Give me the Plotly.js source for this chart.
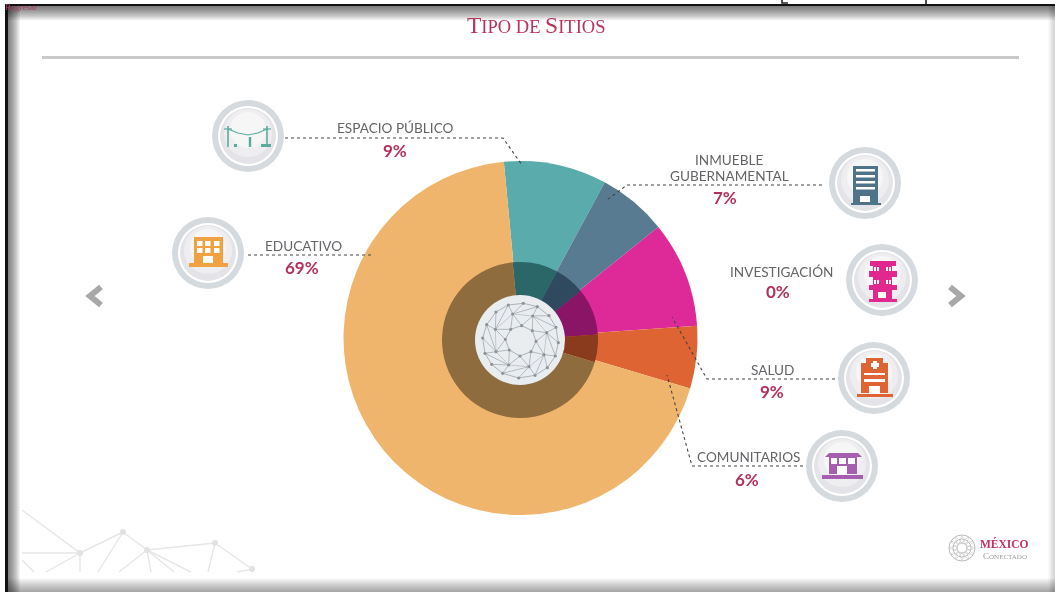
<!DOCTYPE html>
<html><head><meta charset="utf-8">
<script src="https://cdn.plot.ly/plotly-3.0.1.min.js"></script>
<style>html,body{margin:0;padding:0;background:#fff;overflow:hidden}#chart{width:1055px;height:592px;filter:blur(0.4px)}</style>
</head><body><div id="chart"></div>
<script>
const categories = ['Espacio público','Inmueble gubernamental','Investigación','Salud','Comunitarios','Educativo'];
const printedPercents = [9,7,0,9,6,69];
const wedgeShares = [9.4,6.3,0,9.7,5.7,68.9];
const sliceColors = ['#5aabab','#587b91','#a855a8','#dd2a98','#de6434','#f0b56d'];
const ringColors = ['#2b6668','#2f4a5f','#6a2a6a','#8a1465','#8a3a1d','#8f6c3e'];

const W=1055,H=592;
const px=x=>x/W, py=y=>1-y/H;
const shapes=[], ann=[];
function path(pts,color,width,dash,closed,layer){
  const d=pts.map((p,i)=>(i?'L':'M')+px(p[0]).toFixed(5)+','+py(p[1]).toFixed(5)).join(' ')+(closed?' Z':'');
  shapes.push({type:'path',xref:'paper',yref:'paper',path:d,layer:layer||'above',
    line:{color:closed&&!width?'rgba(0,0,0,0)':color,width:width||0,dash:dash||'solid'},
    fillcolor:closed?color:'rgba(0,0,0,0)'});
}
function rect(x0,y0,x1,y1,color,layer){
  shapes.push({type:'rect',xref:'paper',yref:'paper',x0:px(x0),x1:px(x1),y0:py(y1),y1:py(y0),layer:layer||'above',fillcolor:color,line:{width:0}});
}
function circ(cx,cy,r,color,lc,lw,layer){
  shapes.push({type:'circle',xref:'paper',yref:'paper',x0:px(cx-r),x1:px(cx+r),y0:py(cy+r),y1:py(cy-r),layer:layer||'above',fillcolor:color,line:{color:lc||'rgba(0,0,0,0)',width:lw||0}});
}
function text(x,y,t,size,color,family,extra){
  ann.push(Object.assign({xref:'paper',yref:'paper',x:px(x),y:py(y),text:t,showarrow:false,xanchor:'center',yanchor:'middle',borderpad:0,
    font:{family:family||'Lato, sans-serif',size:size,color:color}},extra||{}));
}

/* frame and soft inner shadow */
for(let i=0;i<14;i++){
  const a='rgba(0,0,0,0.05)';
  rect(7,6,7+i,592,a,'below');
  rect(7,6,1055,6+i*1.1,a,'below');
  if(i<10) rect(7,591-i*1.4,1055,592,'rgba(0,0,0,0.04)','below');
  if(i<6) rect(1055-i*1.3,6,1055,592,'rgba(0,0,0,0.035)','below');
}
rect(5,4,1055,6,'#111','below');
rect(5,4,8,592,'#111','below');
/* clipped caption fragments at the very top */
path([[782,0],[782,3],[788,3]],'#222',1.6);
path([[926,0],[926,4]],'#222',1.6);

/* header */
text(536,25,'T<span style="font-size:18.5px">IPO DE </span>S<span style="font-size:18.5px">ITIOS</span>',23.5,'#b8325a','"Liberation Serif", serif');
rect(42,56,1019,59,'#c9c9c9','below');
text(21,7,'Regresar',9,'#a8405c','"Liberation Serif", serif');

/* nav chevrons */
path([[101,287],[90,296],[101,305]],'#a8a8a8',6);
path([[950,287],[961,296],[950,305]],'#a8a8a8',6);

/* bottom-left decorative net */
const netCol='#e6e6e6';
[[[22,510],[80,553]],[[22,553],[80,553]],[[22,560],[34,572]],[[80,553],[46,572]],[[80,553],[80,572]],[[123,532],[98,572]],
 [[80,553],[123,532]],[[123,532],[147,550]],[[147,550],[119,572]],[[147,550],[151,572]],[[147,550],[174,572]],[[147,550],[191,572]],
 [[147,550],[215,543]],[[215,543],[208,572]],[[215,543],[252,569]],[[252,569],[237,572]]].forEach(s=>path(s,netCol,1.4,null,false,'below'));
[[80,553],[123,532],[147,550],[215,543],[252,569]].forEach(n=>circ(n[0],n[1],3,'#e2e2e2',null,0,'below'));

/* central globe */
circ(520,340,45,'#e9edf0');
const gO=[[280,160],[322,170],[357,197],[378,232],[385,278],[376,318],[352,353],[315,376],[266,384],[218,370],[185,343],[165,310],[158,264],[170,224],[198,186],[235,165]];
const gM=[[248,192],[308,198],[350,248],[342,314],[297,350],[236,345],[198,305],[196,238]];
const gI=[[275,227],[307,242],[318,274],[303,305],[270,318],[238,300],[226,268],[242,238]];
const g=p=>[430+p[0]/3,250+p[1]/3];
const gl='#9ea3a8';
path(gO.concat([gO[0]]).map(g),gl,0.8);
path(gI.concat([gI[0]]).map(g),gl,0.8);
gM.forEach((m,i)=>{
  [2*i+15,2*i,2*i+1].forEach(j=>path([g(m),g(gO[j%16])],gl,0.7));
  [(i+7)%8,i].forEach(j=>path([g(m),g(gI[j])],gl,0.7));
  path([g(m),g(gM[(i+1)%8])],gl,0.5);
});
gO.concat(gM,gI).forEach(p=>{const q=g(p);circ(q[0],q[1],1.6,'#8e9499');});

/* leader lines */
const lead='#444';
path([[285,138],[503,138],[522,165]],lead,1.1,'dot');
path([[248,255],[373,255]],lead,1.1,'dot');
path([[822,185],[627,185],[607,200]],lead,1.1,'dot');
path([[835,379],[707,379],[672,317]],lead,1.1,'dot');
path([[803,466],[692,466],[667,375]],lead,1.1,'dot');

/* labels */
const lab='#636467', pct='#b5315a';
function label(lines,p,i){
  lines.forEach(l=>text(l[0],l[1],l[2],13.6,lab));
  text(p[0],p[1],'<b>'+printedPercents[i]+'%</b>',17,pct);
}
label([[395,128,'ESPACIO PÚBLICO']],[395,150],0);
label([[729,160,'INMUEBLE'],[729,176,'GUBERNAMENTAL']],[725,197],1);
label([[781,272,'INVESTIGACIÓN']],[778,291],2);
label([[772,370,'SALUD']],[772,391],3);
label([[748,457,'COMUNITARIOS']],[747,479],4);
label([[303,246,'EDUCATIVO']],[302,267],5);

/* icon medallions */
function medal(cx,cy){
  circ(cx,cy,36,'#d4dadd');
  circ(cx,cy,30,'#ffffff');
  circ(cx,cy,28,'#e4e4e8');
  circ(cx,cy-3,24,'#eeeef0');
  circ(cx,cy-6,18,'#f6f6f7');
}
[[248,136],[208,253],[865,183],[882,280],[874,378],[842,466]].forEach(c=>medal(c[0],c[1]));

/* espacio público */
const tl='#5aab9e';
path([[228,126],[228,147]],tl,1.6); path([[267,126],[267,147]],tl,1.6);
path([[224,129],[232,129]],tl,1.2); path([[263,129],[271,129]],tl,1.2);
path([[228,129],[238,133],[248,135],[258,133],[267,129]],tl,1.2);
rect(234,144,237,147,tl); path([[250,137],[250,147]],tl,2.4); rect(261,144,271,147,tl);

/* educativo */
const ed='#f0a243';
rect(194,237,223,263,ed); rect(189,263,228,267,ed);
[197,205,214].forEach(x=>[241,248].forEach(y=>rect(x,y,x+5.5,y+5,'#fff')));
rect(203,256,213,263,'#fff');

/* inmueble */
const bl='#4f7389';
rect(853,166,878,203,bl); rect(851,203,881,205,bl);
[169,175,181,187].forEach(y=>rect(856,y,875,y+2.5,'#fff'));
rect(860,196,870,202,'#fff');

/* investigación */
const mg='#e0288f';
rect(870,261,896,266,mg); rect(873,266,892,301,mg);
rect(869,271,897,277,mg); rect(869,285,897,290,mg); rect(869,299,897,302,mg);
[[875,267],[887,267],[875,280],[887,280]].forEach(p=>{rect(p[0]-1,p[1],p[0]+1,p[1]+4,'#fff');rect(p[0]+2,p[1],p[0]+4,p[1]+4,'#fff');});
rect(878,292,886,298,'#fff');

/* salud */
const sa='#de6434';
rect(866,358,883,364,sa); rect(861,363,888,393,sa); rect(857,394,893,397,sa);
rect(873,361,877,369,'#fff'); rect(871,363,879,367,'#fff');
rect(864,373,885,375,'#fff'); rect(864,379,885,382,'#fff'); rect(869,386,880,394,'#fff');

/* comunitarios */
const cm='#a55fae';
path([[825,457],[829,453],[858,453],[862,457]],cm,0,null,true);
rect(829,457,857,474,cm); rect(822,475,863,479,cm);
[[831,837],[839,846],[848,855]].forEach(p=>rect(p[0],458,p[1],464,'#fff'));
rect(837,466,847,474,'#fff');

/* logo */
const lc=[962,548];
[13,9,5].forEach(r=>circ(lc[0],lc[1],r,'rgba(0,0,0,0)','#bbbbbb',1,'below'));
for(let a=0;a<12;a++){const t=a*Math.PI/6;
  path([[lc[0]+5*Math.cos(t),lc[1]+5*Math.sin(t)],[lc[0]+13*Math.cos(t+0.5),lc[1]+13*Math.sin(t+0.5)]],'#c4c4c4',0.6,null,false,'below');
  path([[lc[0]+5*Math.cos(t),lc[1]+5*Math.sin(t)],[lc[0]+13*Math.cos(t-0.5),lc[1]+13*Math.sin(t-0.5)]],'#c4c4c4',0.6,null,false,'below');
}
text(1004.5,543.5,'<b>MÉXICO</b>',11.5,'#c0305e','"Liberation Serif", serif');
text(1004.5,556,'C<span style="font-size:7px">ONECTADO</span>',9,'#9a9a9a','"Liberation Serif", serif');

/* pies */
const cx=520.5, cy=338, R=177;
const rx=520, ry=340, Rr=78;
const traces=[
 {type:'pie',labels:categories,values:wedgeShares,sort:false,direction:'clockwise',rotation:-5.4,textinfo:'none',hoverinfo:'skip',
  marker:{colors:sliceColors,line:{width:0}},
  domain:{x:[px(cx-R),px(cx+R)],y:[py(cy+R),py(cy-R)]}},
 {type:'pie',labels:categories,values:wedgeShares,sort:false,direction:'clockwise',rotation:-5.4,textinfo:'none',hoverinfo:'skip',hole:0.5,
  marker:{colors:ringColors,line:{width:0}},
  domain:{x:[px(rx-Rr),px(rx+Rr)],y:[py(ry+Rr),py(ry-Rr)]}}
];
const layout={width:W,height:H,margin:{l:0,r:0,t:0,b:0},paper_bgcolor:'#ffffff',plot_bgcolor:'#ffffff',showlegend:false,shapes:shapes,annotations:ann};
Plotly.newPlot('chart',traces,layout,{displayModeBar:false,staticPlot:true});
</script></body></html>
